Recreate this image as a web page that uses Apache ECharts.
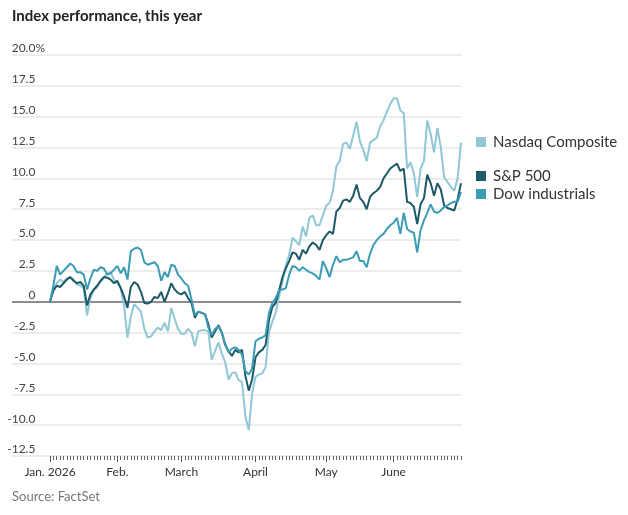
<!DOCTYPE html>
<html>
<head>
<meta charset="utf-8">
<script src="https://cdn.jsdelivr.net/npm/echarts@6/dist/echarts.min.js"></script>
<style>
  html, body { margin: 0; padding: 0; background: #fff; }
  #chart { width: 628px; height: 515px; }
</style>
</head>
<body>
<div id="chart"></div>
<script>
// Month tick labels and the trading days of each month (2026)
const monthLabels = ['Jan. 2026', 'Feb.', 'March', 'April', 'May', 'June'];
const tradingDays = [
  [2,5,6,7,8,9,12,13,14,15,16,20,21,22,23,26,27,28,29,30],
  [2,3,4,5,6,9,10,11,12,13,17,18,19,20,23,24,25,26,27],
  [2,3,4,5,6,9,10,11,12,13,16,17,18,19,20,23,24,25,26,27,30,31],
  [1,2,6,7,8,9,10,13,14,15,16,17,20,21,22,23,24,27,28,29,30],
  [1,4,5,6,7,8,11,12,13,14,15,18,19,20,21,22,26,27,28,29],
  [1,2,3,4,5,8,9,10,11,12,15,16,17,18,22,23,24,25,26,29,30]
];

// Y-axis tick values
const yTicks = [-12.5, -10, -7.5, -5, -2.5, 0, 2.5, 5, 7.5, 10, 12.5, 15, 17.5, 20];

// Percent change since start of year
const nasdaq = [
  0, 1.0, 1.5, 1.8, 1.6, 1.9, 2.0, 1.8, 1.4, 1.3,
  1.1, -1.1, 0.3, 0.9, 1.2, 1.6, 1.95, 2.3, 2.4, 1.8,
  1.5, 1.1, -0.4, -2.9, -1.2, -0.2, -0.5, -0.8, -2.2, -2.9,
  -2.8, -2.4, -2.1, -2.3, -1.7, -2.4, -0.5, -1.4, -2.2, -2.6,
  -2.6, -2.2, -2.5, -3.6, -2.4, -2.3, -2.3, -2.4, -4.7, -4.0,
  -3.3, -4.2, -4.9, -6.3, -5.8, -5.7, -6.35, -6.5, -9.3, -10.4,
  -7.4, -6.1, -5.9, -5.8, -5.3, -2.5, -1.6, -0.9, 0.4, 1.6,
  3.0, 3.8, 5.2, 4.9, 4.6, 6.1, 5.3, 6.8, 7.0, 6.2,
  6.2, 7.0, 7.8, 8.0, 9.0, 11.0, 11.4, 12.8, 12.9, 12.4,
  13.5, 14.6, 13.0, 12.3, 11.4, 12.9, 13.1, 13.3, 14.2, 14.7,
  15.4, 16.0, 16.5, 16.5, 15.5, 15.3, 10.8, 11.3, 10.4, 8.5,
  10.8, 11.4, 14.7, 13.6, 12.1, 14.1, 12.5, 10.1, 9.7, 9.3,
  9.0, 10.0, 12.9
];
const sp500 = [
  0, 0.9, 1.3, 1.2, 1.5, 1.8, 2.0, 1.7, 1.5, 1.6,
  1.3, -0.3, 0.6, 1.0, 1.3, 1.7, 2.0, 1.95, 1.8, 1.5,
  1.7, 1.1, 0.4, -0.5, 1.2, 1.6, 1.4, 0.8, -0.1, -0.15,
  0.0, 0.4, 0.3, 0.8, 0.0, 0.7, 1.5, 1.0, 0.7, 0.6,
  0.8, 0.3, -0.1, -1.3, -0.8, -0.9, -1.0, -1.8, -2.9, -2.4,
  -1.9, -2.5, -3.5, -4.0, -4.4, -3.9, -4.1, -3.9, -6.0, -7.2,
  -6.3, -4.5, -4.1, -3.9, -3.5, -1.5, -0.4, -0.1, 0.9, 2.0,
  2.7, 3.3, 4.0, 3.9, 3.4, 4.2, 3.9, 4.5, 4.8, 4.6,
  4.2, 5.0, 5.4, 5.7, 5.5, 7.3, 7.6, 8.2, 8.3, 8.1,
  8.6, 9.5, 8.4, 8.1, 7.5, 8.5, 8.8, 9.0, 9.3, 10.0,
  10.4, 10.8, 11.0, 11.2, 10.6, 10.8, 8.1, 8.0, 7.7, 6.3,
  7.9, 8.4, 10.3, 9.6, 8.6, 9.6, 9.1, 7.8, 7.6, 7.5,
  7.4, 8.3, 9.6
];
const dow = [
  0, 1.3, 2.9, 2.2, 2.5, 2.8, 3.1, 2.9, 2.4, 2.4,
  2.2, 1.0, 1.9, 2.6, 2.5, 2.8, 2.7, 2.2, 2.3, 2.6,
  2.9, 2.3, 2.8, 1.8, 4.1, 4.3, 4.4, 4.2, 3.2, 3.0,
  3.1, 3.2, 2.9, 1.7, 2.4, 2.0, 3.0, 2.9, 2.2, 1.9,
  1.5, 1.3, 0.2, -1.1, -0.8, -0.9, -1.0, -2.1, -2.7, -2.2,
  -2.0, -2.5, -3.4, -4.1, -3.8, -3.7, -3.9, -4.3, -5.6, -5.9,
  -5.4, -3.2, -3.0, -2.9, -2.7, -0.9, -0.1, 0.3, 0.95, 1.0,
  1.1, 2.2, 2.9, 2.8, 2.5, 2.8, 2.6, 2.4, 2.3, 2.1,
  1.8, 3.3, 2.7, 2.0, 3.0, 3.7, 3.2, 3.4, 3.4, 3.5,
  3.6, 4.1, 3.3, 3.3, 2.8, 3.9, 4.6, 5.0, 5.3, 5.5,
  5.9, 6.2, 6.4, 6.8, 5.5, 7.2, 5.9, 5.7, 5.6, 4.0,
  5.8, 6.6, 7.2, 7.9, 7.3, 7.2, 7.4, 7.7, 7.8, 8.0,
  8.1, 8.1, 8.9
];

const seriesNames = ['Nasdaq Composite', 'S&P 500', 'Dow industrials'];
const seriesColors = ['#8fc7d5', '#1d5966', '#3a9cb5'];

// Build categories
const categories = [];
const monthStart = {};
tradingDays.forEach((days, m) => {
  days.forEach((d, k) => {
    if (k === 0) monthStart[categories.length] = monthLabels[m];
    categories.push('2026-' + String(m + 1).padStart(2, '0') + '-' + String(d).padStart(2, '0'));
  });
});

const FONT = 'Lato, "Noto Sans", sans-serif';
const isMonthStart = (idx) => monthStart.hasOwnProperty(idx);

const splitColors = yTicks.map(v => v === 0 ? '#8c8c8c' : '#ececec');

const chart = echarts.init(document.getElementById('chart'), null, { renderer: 'canvas' });

const labelRich = {
  n: { fontFamily: FONT, fontSize: 12, color: '#444', lineHeight: 13 },
  p: { fontFamily: FONT, fontSize: 12, color: '#444', lineHeight: 13 },
  h: { fontFamily: FONT, fontSize: 12, color: 'rgba(0,0,0,0)', lineHeight: 13 }
};

const legendText = { fontFamily: FONT, fontSize: 15, color: '#333', lineHeight: 16, padding: [0, 0, 0, 2] };

const option = {
  animation: false,
  backgroundColor: '#fff',
  title: [
    { text: 'Index performance, this year', left: 12, top: 9, padding: 0,
      textStyle: { fontFamily: FONT, fontSize: 15, fontWeight: 'bold', color: '#222' } },
    { text: 'Source: FactSet', left: 12, top: 490, padding: 0,
      textStyle: { fontFamily: FONT, fontSize: 13, fontWeight: 'normal', color: '#777' } }
  ],
  legend: [
    { data: [seriesNames[0]], left: 476, top: 134, padding: 0, itemWidth: 10, itemHeight: 10, icon: 'rect',
      textStyle: legendText, selectedMode: false },
    { data: [seriesNames[1]], left: 476, top: 168, padding: 0, itemWidth: 10, itemHeight: 10, icon: 'rect',
      textStyle: legendText, selectedMode: false },
    { data: [seriesNames[2]], left: 476, top: 186, padding: 0, itemWidth: 10, itemHeight: 10, icon: 'rect',
      textStyle: legendText, selectedMode: false }
  ],
  grid: [
    { left: 12, right: 167, top: 55, bottom: 59 },
    { left: 50, right: 167, top: 55, bottom: 59 }
  ],
  xAxis: [
    { gridIndex: 0, type: 'value', min: 0, max: 1, show: false },
    { gridIndex: 1, type: 'category', data: categories, boundaryGap: false, position: 'bottom',
      axisLine: { show: false, onZero: false },
      axisTick: { show: true, interval: 0, length: 4, lineStyle: { color: '#666', width: 1 } },
      axisLabel: { show: false }, splitLine: { show: false } },
    { gridIndex: 1, type: 'category', data: categories, boundaryGap: false, position: 'bottom',
      axisLine: { show: false, onZero: false },
      axisTick: { show: true, interval: (idx) => isMonthStart(idx), length: 6, lineStyle: { color: '#555', width: 1 } },
      axisLabel: { show: true, interval: (idx) => isMonthStart(idx), formatter: (val, idx) => monthStart[idx] || '',
        margin: 10, fontFamily: FONT, fontSize: 12, color: '#333' },
      splitLine: { show: false } }
  ],
  yAxis: [
    { gridIndex: 0, type: 'value', min: -12.5, max: 20, interval: 2.5,
      axisLine: { show: false }, axisTick: { show: false },
      axisLabel: {
        inside: true, margin: 33, align: 'right', verticalAlign: 'bottom', lineHeight: 13,
        fontFamily: FONT, fontSize: 12, color: '#444',
        formatter: (v) => {
          const t = v === 0 ? '0' : v.toFixed(1);
          return v === 20 ? '{n|' + t + '}{p|%}' : '{n|' + t + '}{h|%}';
        },
        rich: labelRich
      },
      splitLine: { show: true, lineStyle: { color: splitColors, width: 2 } }
    },
    { gridIndex: 1, type: 'value', min: -12.5, max: 20, interval: 2.5, show: false, splitLine: { show: false } }
  ],
  series: [
    { name: seriesNames[0], type: 'line', xAxisIndex: 1, yAxisIndex: 1, data: nasdaq, showSymbol: false,
      color: seriesColors[0], lineStyle: { color: seriesColors[0], width: 2 }, z: 3 },
    { name: seriesNames[1], type: 'line', xAxisIndex: 1, yAxisIndex: 1, data: sp500, showSymbol: false,
      color: seriesColors[1], lineStyle: { color: seriesColors[1], width: 2 }, z: 4 },
    { name: seriesNames[2], type: 'line', xAxisIndex: 1, yAxisIndex: 1, data: dow, showSymbol: false,
      color: seriesColors[2], lineStyle: { color: seriesColors[2], width: 2 }, z: 5 }
  ]
};
chart.setOption(option);
</script>
</body>
</html>
